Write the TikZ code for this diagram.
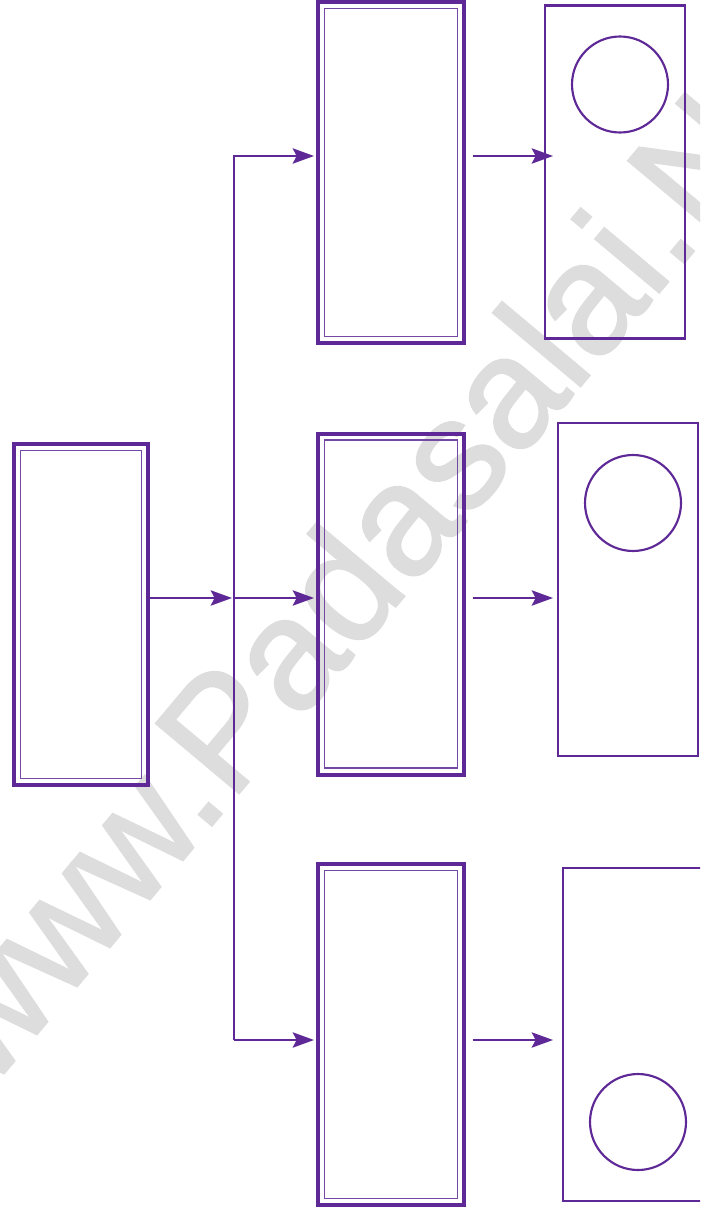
\documentclass[tikz,border=0pt]{standalone}
\usepackage{fontspec}
\newfontfamily\markfont[FakeBold=1.5]{Liberation Sans}
\usetikzlibrary{arrows.meta}
\definecolor{flowpurple}{RGB}{94,40,150}
\definecolor{markgray}{RGB}{221,221,221}

\begin{document}
\begin{tikzpicture}[x=0.75pt, y=-0.75pt, >={Stealth[length=16pt, width=11.5pt, inset=3pt]},
    outerbox/.style={draw=flowpurple, line width=3pt, minimum width=109.5pt, minimum height=255.75pt, inner sep=0pt, outer sep=0pt},
    innerline/.style={draw=flowpurple!85, line width=1.2pt},
    cellbox/.style={draw=flowpurple, line width=1.9pt, minimum width=105pt, minimum height=250pt, inner sep=0pt, outer sep=0pt},
    bubble/.style={circle, draw=flowpurple, line width=1.6pt, minimum size=72pt, inner sep=0pt},
    conn/.style={flowpurple, line width=1.5pt}]
    \useasboundingbox (0,0) rectangle (700,1209);
    \clip (0,0) rectangle (700,1209);

    % Watermark
    \node[rotate=50, anchor=base west, text=markgray, inner sep=0pt,
          font={\markfont\fontsize{118pt}{118pt}\selectfont}] (mark) at (-11,1091) {www.Padasalai.Net};

    % Left box
    \node[outerbox, minimum width=100.5pt] (src) at (81,614.5) {};

    % Middle column
    \node[outerbox] (m1) at (391,172.5) {};
    \node[outerbox] (m2) at (391,604) {};
    \node[outerbox] (m3) at (391,1034.5) {};

    % Inner lines of the double boxes
    \foreach \b in {src,m1,m2,m3}
        \draw[innerline] ([shift={(6.5,6.5)}]\b.north west) rectangle ([shift={(-6.5,-6.5)}]\b.south east);

    % Right column with circles
    \node[cellbox] (r1) at (615,172) {};
    \node[cellbox] (r2) at (628,589.5) {};
    \node[cellbox] (r3) at (633,1034.5) {};
    \node[bubble] (c1) at (620,84.5) {};
    \node[bubble] (c2) at (633,503) {};
    \node[bubble] (c3) at (638,1122) {};

    % Branch points
    \coordinate (split) at (234,598);
    \coordinate (top) at (234,156);
    \coordinate (bot) at (234,1040);
    \coordinate (tipx) at (553,0);

    % Connectors
    \draw[conn, ->, shorten >=1.5pt] (src.east |- split) -- (split);
    \draw[conn, ->, shorten >=3pt] (bot) -- (top) -- (top -| m1.west);
    \draw[conn, ->, shorten >=3pt] (split) -- (split -| m2.west);
    \draw[conn, ->, shorten >=3pt] (bot) -- (bot -| m3.west);
    \draw[conn, ->, shorten <=6.4pt] (m1.east |- top) -- (tipx |- top);
    \draw[conn, ->, shorten <=6.4pt] (m2.east |- split) -- (tipx |- split);
    \draw[conn, ->, shorten <=6.4pt] (m3.east |- bot) -- (tipx |- bot);
\end{tikzpicture}
\end{document}
